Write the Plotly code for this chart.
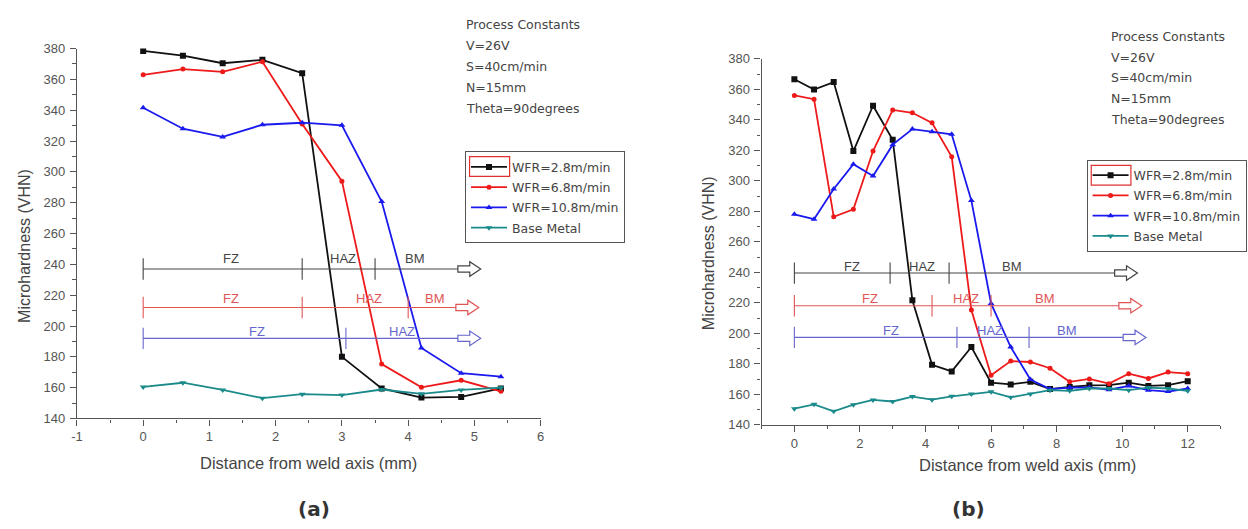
import plotly.graph_objects as go

W, H = 1248, 529

# ---------------- data (a) ----------------
x_a = [0, 0.6, 1.2, 1.8, 2.4, 3.0, 3.6, 4.2, 4.8, 5.4]
wfr28_a = [378.5, 375.4, 370.5, 372.7, 364.0, 180.0, 159.5, 153.6, 154.0, 159.5]
wfr68_a = [363.0, 366.7, 364.9, 371.5, 331.0, 294.0, 175.3, 160.2, 164.8, 157.6]
wfr108_a = [341.6, 328.0, 322.7, 330.6, 331.9, 330.2, 280.8, 185.8, 169.4, 167.1]
base_a = [160.5, 163.2, 158.5, 153.2, 155.8, 155.2, 158.8, 156.0, 158.5, 160.0]

# ---------------- data (b) ----------------
x_b = [0, 0.6, 1.2, 1.8, 2.4, 3.0, 3.6, 4.2, 4.8, 5.4, 6.0, 6.6, 7.2, 7.8, 8.4,
       9.0, 9.6, 10.2, 10.8, 11.4, 12.0]
wfr28_b = [366.6, 359.8, 364.7, 319.5, 349.2, 326.9, 221.7, 179.3, 175.0, 191.0,
           167.6, 166.5, 168.2, 163.4, 164.8, 165.9, 166.0, 167.6, 165.5, 166.0, 168.6]
wfr68_b = [356.0, 353.5, 276.4, 281.3, 319.5, 346.5, 344.6, 338.0, 315.7, 215.3,
           172.5, 181.8, 181.2, 177.1, 168.2, 170.1, 167.0, 173.5, 170.4, 174.6, 173.5]
wfr108_b = [278.0, 274.8, 294.6, 310.9, 303.1, 323.7, 333.9, 332.2, 330.5, 287.0,
            219.6, 191.0, 169.7, 163.4, 164.4, 164.5, 163.0, 165.5, 162.7, 161.8, 163.8]
base_b = [150.6, 153.4, 148.9, 153.2, 156.3, 155.3, 158.5, 156.5, 158.7, 160.2,
          161.6, 158.0, 160.2, 162.7, 162.3, 163.8, 163.8, 162.7, 164.4, 163.8, 162.3]

series_names = ["WFR=2.8m/min", "WFR=6.8m/min", "WFR=10.8m/min", "Base Metal"]

# zone annotations (FZ / HAZ / BM)
zone_names = [["FZ", "HAZ", "BM"], ["FZ", "HAZ", "BM"], ["FZ", "HAZ"]]
zone_y_a = [237.0, 212.0, 192.0]
zone_ticks_a = [[0, 2.4, 3.5], [0, 2.4, 4.0], [0, 3.06]]
zone_arrow_a = [4.75, 4.72, 4.75]
zone_label_x_a = [[1.33, 3.02, 4.1], [1.33, 3.41, 4.41], [1.72, 3.91]]
zone_label_y_a = [244.0, 218.0, 196.7]

zone_names_b = [["FZ", "HAZ", "BM"], ["FZ", "HAZ", "BM"], ["FZ", "HAZ", "BM"]]
zone_y_b = [239.5, 218.1, 197.3]
zone_ticks_b = [[0, 2.92, 4.72], [0, 4.2, 6.0], [0, 4.96, 7.16]]
zone_arrow_b = [9.77, 9.9, 10.03]
zone_label_x_b = [[1.76, 3.9, 6.65], [2.3, 5.25, 7.64], [2.94, 5.96, 8.32]]
zone_label_y_b = [244.0, 222.8, 202.0]

constants_text = ["Process Constants", "V=26V", "S=40cm/min", "N=15mm", "Theta=90degrees"]

x_ticks_a = [-1, 0, 1, 2, 3, 4, 5, 6]
x_ticktext_a = ["-1", "0", "1", "2", "3", "4", "5", "6"]
x_ticks_b = [0, 2, 4, 6, 8, 10, 12]
y_ticks = [140, 160, 180, 200, 220, 240, 260, 280, 300, 320, 340, 360, 380]

# ---------------- styles ----------------
line_colors = ["#111111", "#ee1a1a", "#1a1aee", "#1a8a8a"]
symbols = ["square", "circle", "triangle-up", "triangle-down"]
msizes = [6, 5, 6, 6]
zone_colors = ["#444444", "#e05555", "#6666cc"]
axis_col = "#555555"
txt_col = "#555555"

# panel geometry in pixels
pa = dict(x0=71.5, x1=539.0, ytop=42.8, ybot=423.5, xr=[-1, 6])
pb = dict(x0=761.7, x1=1224.3, ytop=53.3, ybot=430.0, xr=[-1, 13])
yr = [140, 380]

fig = go.Figure()

def add_series(xs, ys_list, xa, ya, legend):
    for i, ys in enumerate(ys_list):
        fig.add_trace(go.Scatter(
            x=xs, y=ys, name=series_names[i], mode="lines+markers",
            xaxis=xa, yaxis=ya, legend=legend, legendgroup=legend + str(i),
            line=dict(color=line_colors[i], width=1.8),
            marker=dict(symbol=symbols[i], size=msizes[i], color=line_colors[i]),
        ))

add_series(x_a, [wfr28_a, wfr68_a, wfr108_a, base_a], "x", "y", "legend")
add_series(x_b, [wfr28_b, wfr68_b, wfr108_b, base_b], "x2", "y2", "legend2")

shapes = []
annotations = []

def add_zones(p, xref, yref, names, zy, zt, za, lx, ly):
    pxx = (p["x1"] - p["x0"]) / (p["xr"][1] - p["xr"][0])
    pxy = (p["ybot"] - p["ytop"]) / (yr[1] - yr[0])
    for k in range(len(zy)):
        c = zone_colors[k]
        y = zy[k]
        shapes.append(dict(type="line", xref=xref, yref=yref, x0=zt[k][0], x1=za[k],
                           y0=y, y1=y, line=dict(color=c, width=1.1)))
        th = 11 / pxy
        for t in zt[k]:
            shapes.append(dict(type="line", xref=xref, yref=yref, x0=t, x1=t,
                               y0=y - th, y1=y + th, line=dict(color=c, width=1.1)))
        # hollow block arrow
        L, hs, bh, hh = 23 / pxx, 12 / pxx, 3.2 / pxy, 7.5 / pxy
        x0 = za[k]
        path = (f"M {x0},{y + bh} L {x0 + hs},{y + bh} L {x0 + hs},{y + hh} "
                f"L {x0 + L},{y} L {x0 + hs},{y - hh} L {x0 + hs},{y - bh} "
                f"L {x0},{y - bh} Z")
        shapes.append(dict(type="path", xref=xref, yref=yref, path=path,
                           line=dict(color=c, width=1.2), fillcolor="white"))
        for j, nm in enumerate(names[k]):
            annotations.append(dict(text=nm, x=lx[k][j], y=ly[k], xref=xref, yref=yref,
                                    showarrow=False, xanchor="center", yanchor="middle",
                                    font=dict(family="Liberation Sans", size=13, color=c)))

add_zones(pa, "x", "y", zone_names, zone_y_a, zone_ticks_a, zone_arrow_a,
          zone_label_x_a, zone_label_y_a)
add_zones(pb, "x2", "y2", zone_names_b, zone_y_b, zone_ticks_b, zone_arrow_b,
          zone_label_x_b, zone_label_y_b)

# process constants text
for i, t in enumerate(constants_text):
    for xp, y0 in [(462.0, 18.3), (1111.7, 30.0)]:
        annotations.append(dict(text=t, x=xp / W, y=1 - (y0 + i * 21.5) / H,
                                xref="paper", yref="paper", showarrow=False,
                                xanchor="left", yanchor="middle",
                                font=dict(family="DejaVu Sans", size=12.5, color="#444444")))

# axis titles
for xc, yc in [(18, 246), (708, 253)]:
    annotations.append(dict(text="Microhardness (VHN)", x=xc / W, y=1 - yc / H,
                            xref="paper", yref="paper", showarrow=False, textangle=-90,
                            xanchor="center", yanchor="middle",
                            font=dict(family="Liberation Sans", size=16, color="#444444")))
for xc, yc in [(305, 469), (1030, 471)]:
    annotations.append(dict(text="Distance from weld axis (mm)", x=xc / W, y=1 - yc / H,
                            xref="paper", yref="paper", showarrow=False,
                            xanchor="center", yanchor="middle",
                            font=dict(family="Liberation Sans", size=16.5, color="#444444")))
for lab, xc in [("(a)", 310), ("(b)", 970)]:
    annotations.append(dict(text=f"<b>{lab}</b>", x=xc / W, y=1 - 517 / H,
                            xref="paper", yref="paper", showarrow=False,
                            xanchor="center", yanchor="middle",
                            font=dict(family="DejaVu Sans", size=20, color="#333333")))

# red highlight boxes around first legend symbols
for x0, x1, y0, y1 in [(467.3, 507.7, 154.0, 174.3), (1094.0, 1134.0, 163.0, 183.3)]:
    shapes.append(dict(type="rect", xref="paper", yref="paper", layer="above",
                       x0=x0 / W, x1=x1 / W, y0=1 - y1 / H, y1=1 - y0 / H,
                       line=dict(color="#e03030", width=1.2)))

def xaxis(p, ticks, minor_dt, anchor, ticktext=None):
    d = dict(domain=[p["x0"] / W, p["x1"] / W], range=p["xr"], anchor=anchor,
             tickvals=ticks, showline=True, linecolor=axis_col, linewidth=1.2,
             ticks="outside", ticklen=6, tickcolor=axis_col, tickwidth=1.1,
             minor=dict(ticks="outside", ticklen=3.5, dtick=minor_dt, tick0=0,
                        tickcolor=axis_col, tickwidth=1.1),
             showgrid=False, zeroline=False,
             tickfont=dict(family="Liberation Sans", size=13, color=txt_col))
    if ticktext is not None:
        d["ticktext"] = ticktext
    return d

def yaxis(p, anchor):
    return dict(domain=[1 - p["ybot"] / H, 1 - p["ytop"] / H], range=yr, anchor=anchor,
                tickvals=y_ticks, showline=True, linecolor=axis_col, linewidth=1.2,
                ticks="outside", ticklen=6, tickcolor=axis_col, tickwidth=1.1,
                minor=dict(ticks="outside", ticklen=3.5, dtick=10, tick0=140,
                           tickcolor=axis_col, tickwidth=1.1),
                showgrid=False, zeroline=False, ticklabelstandoff=2,
                tickfont=dict(family="Liberation Sans", size=13, color=txt_col))

legend_style = dict(xanchor="left", yanchor="top", bgcolor="rgba(255,255,255,0)",
                    bordercolor="#555555", borderwidth=1, itemwidth=36,
                    tracegroupgap=1, itemclick=False,
                    font=dict(family="DejaVu Sans", size=12.5, color="#444444"))

fig.update_layout(
    width=W, height=H, margin=dict(l=0, r=0, t=0, b=0),
    paper_bgcolor="white", plot_bgcolor="white",
    xaxis=xaxis(pa, x_ticks_a, 0.5, "y", x_ticktext_a),
    yaxis=yaxis(pa, "x"),
    xaxis2=xaxis(pb, x_ticks_b, 1, "y2"),
    yaxis2=yaxis(pb, "x2"),
    legend=dict(x=462.7 / W, y=1 - 148.5 / H, **legend_style),
    legend2=dict(x=1089.3 / W, y=1 - 157.0 / H, **legend_style),
    shapes=shapes, annotations=annotations, showlegend=True,
)

fig.write_html("out.html")
